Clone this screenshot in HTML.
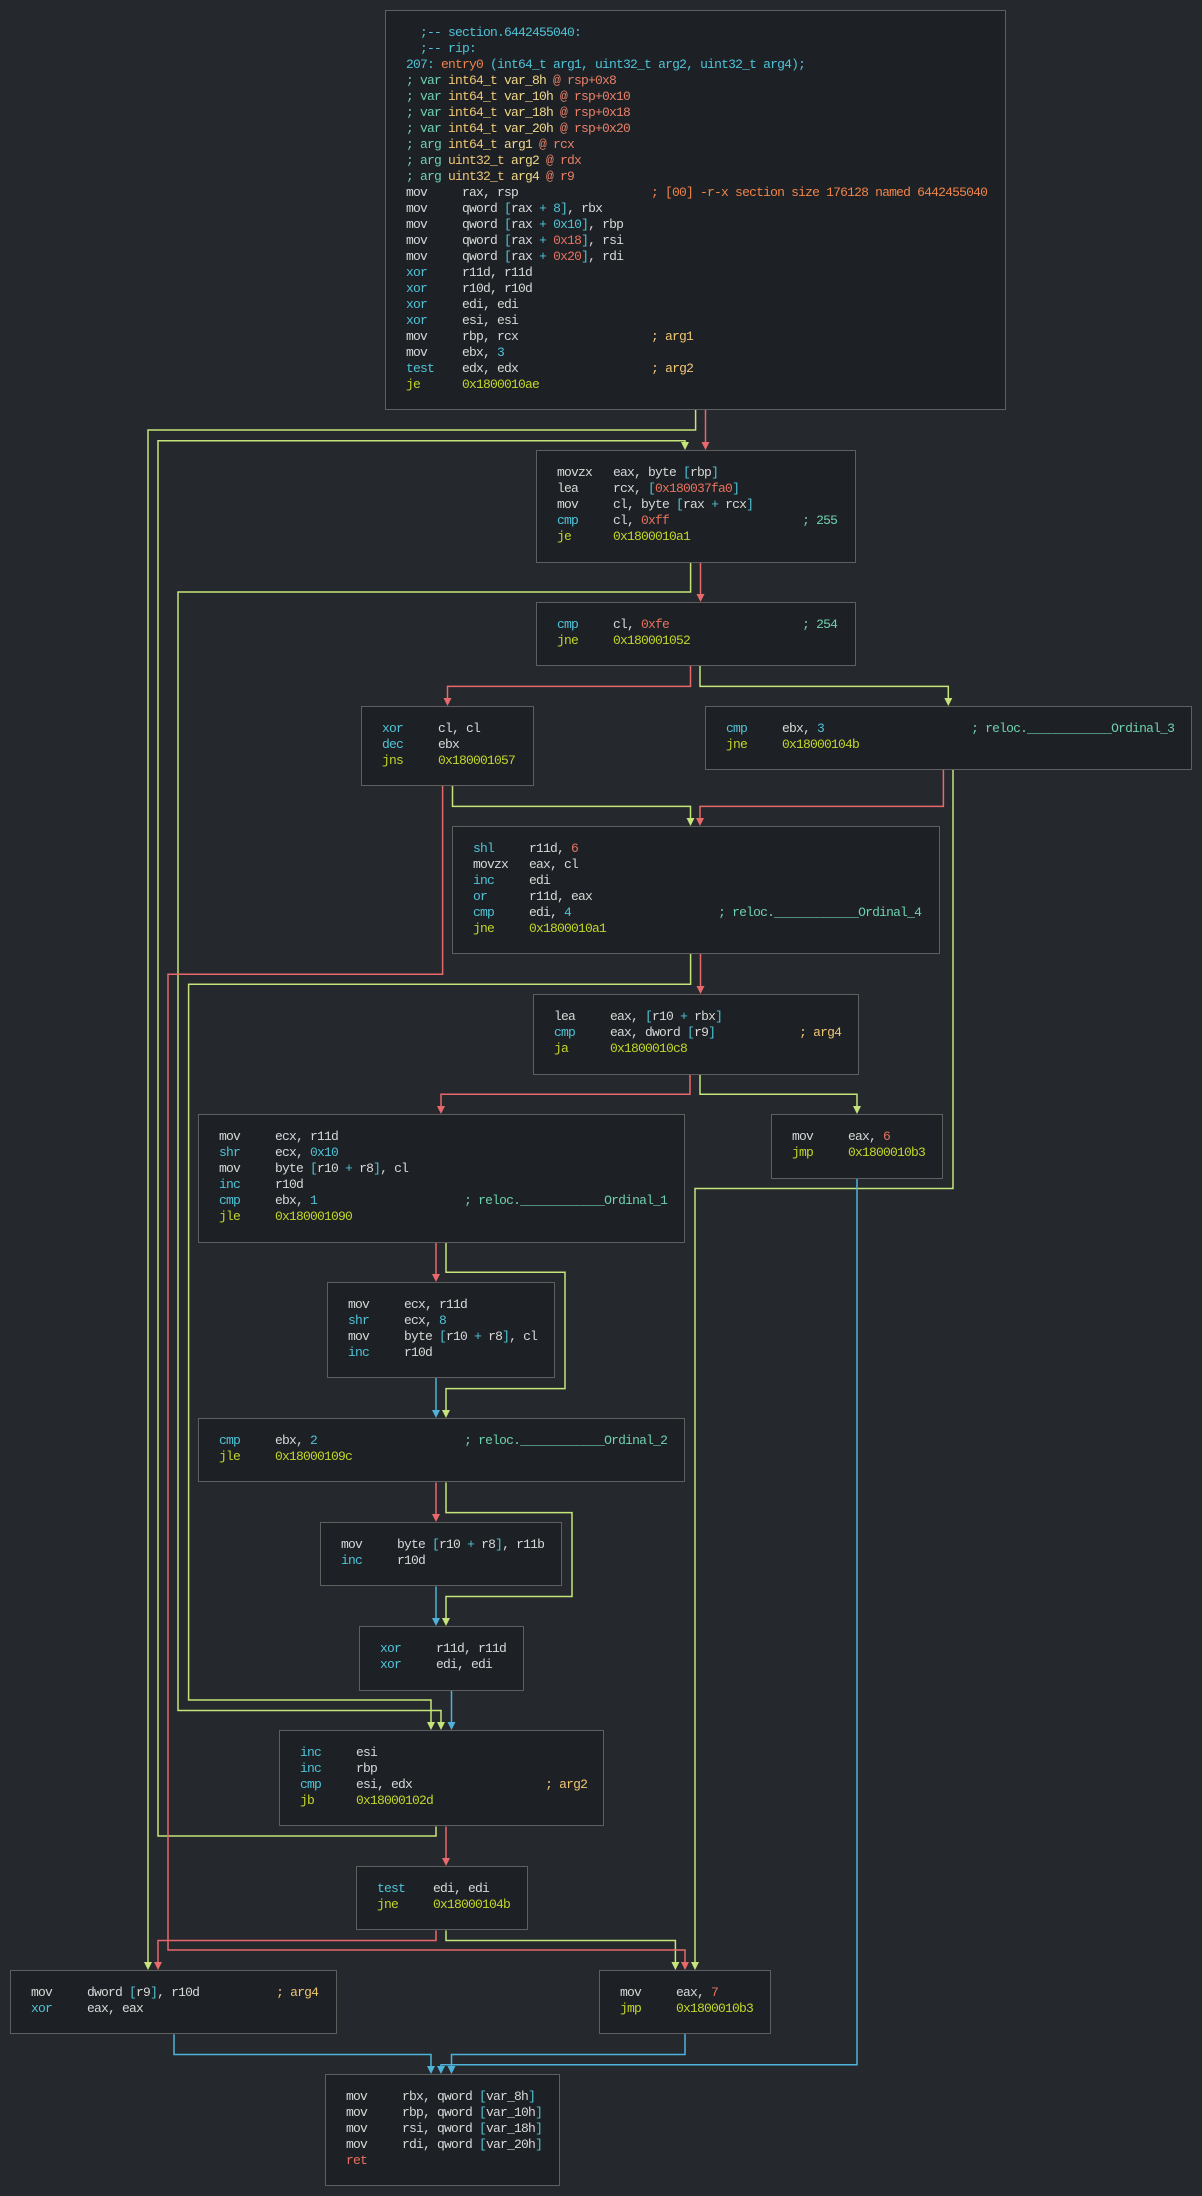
<!DOCTYPE html>
<html><head><meta charset="utf-8"><style>
html,body{margin:0;padding:0;}
body{width:1202px;height:2196px;background:#25282c;position:relative;overflow:hidden;font-family:"Liberation Mono","DejaVu Sans Mono",monospace;font-size:13px;letter-spacing:-0.8px;}
svg{position:absolute;left:0;top:0;}
.b{position:absolute;box-sizing:border-box;background:#1d2024;border:1.5px solid #5f5f5f;padding:14px 0 0 20px;white-space:pre;line-height:16px;color:#d8d8d8;}
.c{color:#4fc3d8}.y{color:#c3d52b}.r{color:#e8735f}.o{color:#f0844a}.a{color:#f0c674}.t{color:#6fd0ae}.s{color:#e8806a}.v{color:#f0d88a}
</style></head><body>
<svg width="1202" height="2196" fill="none" stroke-width="1.5">
<g stroke="#c5e57a">
<polyline points="695.6,410 695.6,430 148,430 148,1963"/>
<polyline points="436,1826.5 436,1836 158,1836 158,440.7 685,440.7 685,443"/>
<polyline points="690.6,562.5 690.6,592 178,592 178,1710.5 441,1710.5 441,1723"/>
<polyline points="700,666 700,686.4 948.3,686.4 948.3,699"/>
<polyline points="452.5,786 452.5,806.4 690.5,806.4 690.5,819"/>
<polyline points="953,770 953,1188.5 695,1188.5 695,1963"/>
<polyline points="690.6,954 690.6,984.3 188.6,984.3 188.6,1700 431,1700 431,1723"/>
<polyline points="700,1074.4 700,1094.3 857,1094.3 857,1107"/>
<polyline points="446,1242.4 446,1272.3 565,1272.3 565,1388.6 446,1388.6 446,1411"/>
<polyline points="446,1482.4 446,1512.6 572,1512.6 572,1596.5 446,1596.5 446,1619"/>
<polyline points="446,1930.4 446,1940.5 675.4,1940.5 675.4,1963"/>
</g>
<g fill="#c5e57a">
<polygon points="144,1962 152,1962 148,1970"/>
<polygon points="681,442 689,442 685,450"/>
<polygon points="437,1722 445,1722 441,1730"/>
<polygon points="944.3,698 952.3,698 948.3,706"/>
<polygon points="686.5,818 694.5,818 690.5,826"/>
<polygon points="691,1962 699,1962 695,1970"/>
<polygon points="427,1722 435,1722 431,1730"/>
<polygon points="853,1106 861,1106 857,1114"/>
<polygon points="442,1410 450,1410 446,1418"/>
<polygon points="442,1618 450,1618 446,1626"/>
<polygon points="671.4,1962 679.4,1962 675.4,1970"/>
</g>
<g stroke="#e8696b">
<polyline points="705.5,410 705.5,443"/>
<polyline points="700.5,562.5 700.5,595"/>
<polyline points="690.5,666 690.5,686.4 447.5,686.4 447.5,699"/>
<polyline points="442.6,786 442.6,974.3 168,974.3 168,1950 685,1950 685,1963"/>
<polyline points="943.4,770 943.4,806.4 700,806.4 700,819"/>
<polyline points="700.5,954 700.5,987"/>
<polyline points="690,1074.4 690,1094.3 441,1094.3 441,1107"/>
<polyline points="436,1242.4 436,1275"/>
<polyline points="436,1482.4 436,1515"/>
<polyline points="446,1826.5 446,1859"/>
<polyline points="436,1930.4 436,1940.5 158,1940.5 158,1963"/>
</g>
<g fill="#e8696b">
<polygon points="701.5,442 709.5,442 705.5,450"/>
<polygon points="696.5,594 704.5,594 700.5,602"/>
<polygon points="443.5,698 451.5,698 447.5,706"/>
<polygon points="681,1962 689,1962 685,1970"/>
<polygon points="696,818 704,818 700,826"/>
<polygon points="696.5,986 704.5,986 700.5,994"/>
<polygon points="437,1106 445,1106 441,1114"/>
<polygon points="432,1274 440,1274 436,1282"/>
<polygon points="432,1514 440,1514 436,1522"/>
<polygon points="442,1858 450,1858 446,1866"/>
<polygon points="154,1962 162,1962 158,1970"/>
</g>
<g stroke="#4fb3d9">
<polyline points="857,1178.5 857,2064.7 441,2064.7 441,2067"/>
<polyline points="436,1378 436,1411"/>
<polyline points="436,1586.4 436,1619"/>
<polyline points="451.5,1690.6 451.5,1723"/>
<polyline points="174,2034.2 174,2054.5 431,2054.5 431,2067"/>
<polyline points="685,2034 685,2054.5 451.5,2054.5 451.5,2067"/>
</g>
<g fill="#4fb3d9">
<polygon points="437,2066 445,2066 441,2074"/>
<polygon points="432,1410 440,1410 436,1418"/>
<polygon points="432,1618 440,1618 436,1626"/>
<polygon points="447.5,1722 455.5,1722 451.5,1730"/>
<polygon points="427,2066 435,2066 431,2074"/>
<polygon points="447.5,2066 455.5,2066 451.5,2074"/>
</g>
</svg>

<div class="b" style="left:385px;top:10px;width:621px;height:400px;"><span class="c">  ;-- section.6442455040:</span>
<span class="c">  ;-- rip:</span>
<span class="c">207: </span><span class="o">entry0</span><span class="c"> (int64_t arg1, uint32_t arg2, uint32_t arg4);</span>
<span class="t">; var </span><span class="a">int64_t </span><span class="v">var_8h</span><span class="s"> @ rsp+0x8</span>
<span class="t">; var </span><span class="a">int64_t </span><span class="v">var_10h</span><span class="s"> @ rsp+0x10</span>
<span class="t">; var </span><span class="a">int64_t </span><span class="v">var_18h</span><span class="s"> @ rsp+0x18</span>
<span class="t">; var </span><span class="a">int64_t </span><span class="v">var_20h</span><span class="s"> @ rsp+0x20</span>
<span class="t">; arg </span><span class="a">int64_t </span><span class="v">arg1</span><span class="s"> @ rcx</span>
<span class="t">; arg </span><span class="a">uint32_t </span><span class="v">arg2</span><span class="s"> @ rdx</span>
<span class="t">; arg </span><span class="a">uint32_t </span><span class="v">arg4</span><span class="s"> @ r9</span>
mov     rax, rsp                   <span class="o">; [00] -r-x section size 176128 named 6442455040</span>
mov     qword <span class="c">[</span>rax <span class="c">+ 8]</span>, rbx
mov     qword <span class="c">[</span>rax <span class="c">+ 0x10]</span>, rbp
mov     qword <span class="c">[</span>rax <span class="c">+</span> <span class="r">0x18</span><span class="c">]</span>, rsi
mov     qword <span class="c">[</span>rax <span class="c">+</span> <span class="r">0x20</span><span class="c">]</span>, rdi
<span class="c">xor</span>     r11d, r11d
<span class="c">xor</span>     r10d, r10d
<span class="c">xor</span>     edi, edi
<span class="c">xor</span>     esi, esi
mov     rbp, rcx                   <span class="a">; arg1</span>
mov     ebx, <span class="c">3</span>
<span class="c">test</span>    edx, edx                   <span class="a">; arg2</span>
<span class="y">je      0x1800010ae</span></div>

<div class="b" style="left:536px;top:450px;width:320px;height:113px;">movzx   eax, byte <span class="c">[</span>rbp<span class="c">]</span>
lea     rcx, <span class="c">[</span><span class="r">0x180037fa0</span><span class="c">]</span>
mov     cl, byte <span class="c">[</span>rax <span class="c">+</span> rcx<span class="c">]</span>
<span class="c">cmp</span>     cl, <span class="r">0xff</span>                   <span class="t">; 255</span>
<span class="y">je      0x1800010a1</span></div>

<div class="b" style="left:536px;top:602px;width:320px;height:64px;"><span class="c">cmp</span>     cl, <span class="r">0xfe</span>                   <span class="t">; 254</span>
<span class="y">jne     0x180001052</span></div>

<div class="b" style="left:361px;top:706px;width:173px;height:80px;"><span class="c">xor</span>     cl, cl
<span class="c">dec</span>     ebx
<span class="y">jns     0x180001057</span></div>

<div class="b" style="left:705px;top:706px;width:487px;height:64px;"><span class="c">cmp</span>     ebx, <span class="c">3</span>                     <span class="t">; reloc.____________Ordinal_3</span>
<span class="y">jne     0x18000104b</span></div>

<div class="b" style="left:452px;top:826px;width:488px;height:128px;"><span class="c">shl</span>     r11d, <span class="r">6</span>
movzx   eax, cl
<span class="c">inc</span>     edi
<span class="c">or</span>      r11d, eax
<span class="c">cmp</span>     edi, <span class="c">4</span>                     <span class="t">; reloc.____________Ordinal_4</span>
<span class="y">jne     0x1800010a1</span></div>

<div class="b" style="left:533px;top:994px;width:326px;height:81px;">lea     eax, <span class="c">[</span>r10 <span class="c">+</span> rbx<span class="c">]</span>
<span class="c">cmp</span>     eax, dword <span class="c">[</span>r9<span class="c">]</span>            <span class="a">; arg4</span>
<span class="y">ja      0x1800010c8</span></div>

<div class="b" style="left:198px;top:1114px;width:487px;height:129px;">mov     ecx, r11d
<span class="c">shr</span>     ecx, <span class="c">0x10</span>
mov     byte <span class="c">[</span>r10 <span class="c">+</span> r8<span class="c">]</span>, cl
<span class="c">inc</span>     r10d
<span class="c">cmp</span>     ebx, <span class="c">1</span>                     <span class="t">; reloc.____________Ordinal_1</span>
<span class="y">jle     0x180001090</span></div>

<div class="b" style="left:771px;top:1114px;width:172px;height:65px;">mov     eax, <span class="r">6</span>
<span class="y">jmp     0x1800010b3</span></div>

<div class="b" style="left:327px;top:1282px;width:228px;height:96px;">mov     ecx, r11d
<span class="c">shr</span>     ecx, <span class="c">8</span>
mov     byte <span class="c">[</span>r10 <span class="c">+</span> r8<span class="c">]</span>, cl
<span class="c">inc</span>     r10d</div>

<div class="b" style="left:198px;top:1418px;width:487px;height:64px;"><span class="c">cmp</span>     ebx, <span class="c">2</span>                     <span class="t">; reloc.____________Ordinal_2</span>
<span class="y">jle     0x18000109c</span></div>

<div class="b" style="left:320px;top:1522px;width:242px;height:64px;">mov     byte <span class="c">[</span>r10 <span class="c">+</span> r8<span class="c">]</span>, r11b
<span class="c">inc</span>     r10d</div>

<div class="b" style="left:359px;top:1626px;width:165px;height:65px;"><span class="c">xor</span>     r11d, r11d
<span class="c">xor</span>     edi, edi</div>

<div class="b" style="left:279px;top:1730px;width:325px;height:96px;"><span class="c">inc</span>     esi
<span class="c">inc</span>     rbp
<span class="c">cmp</span>     esi, edx                   <span class="a">; arg2</span>
<span class="y">jb      0x18000102d</span></div>

<div class="b" style="left:356px;top:1866px;width:172px;height:64px;"><span class="c">test</span>    edi, edi
<span class="y">jne     0x18000104b</span></div>

<div class="b" style="left:10px;top:1970px;width:327px;height:64px;">mov     dword <span class="c">[</span>r9<span class="c">]</span>, r10d           <span class="a">; arg4</span>
<span class="c">xor</span>     eax, eax</div>

<div class="b" style="left:599px;top:1970px;width:172px;height:64px;">mov     eax, <span class="r">7</span>
<span class="y">jmp     0x1800010b3</span></div>

<div class="b" style="left:325px;top:2074px;width:235px;height:112px;">mov     rbx, qword <span class="c">[</span>var_8h<span class="c">]</span>
mov     rbp, qword <span class="c">[</span>var_10h<span class="c">]</span>
mov     rsi, qword <span class="c">[</span>var_18h<span class="c">]</span>
mov     rdi, qword <span class="c">[</span>var_20h<span class="c">]</span>
<span class="r">ret</span></div>
</body></html>
